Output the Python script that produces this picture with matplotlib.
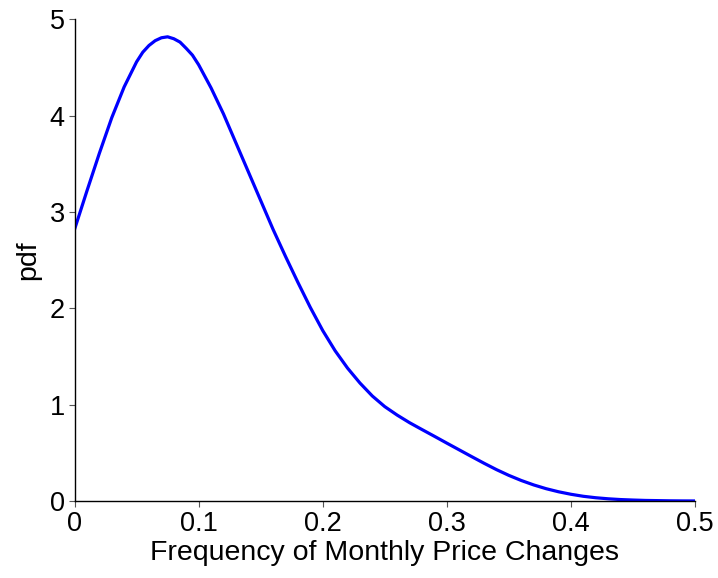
import matplotlib
matplotlib.use("Agg")
import matplotlib.pyplot as plt

freq = [0.00, 0.01, 0.02, 0.03, 0.04, 0.05, 0.055, 0.06, 0.065, 0.07, 0.075,
        0.08, 0.085, 0.09, 0.095, 0.10, 0.11, 0.12, 0.13, 0.14, 0.15, 0.16,
        0.17, 0.18, 0.19, 0.20, 0.21, 0.22, 0.23, 0.24, 0.25, 0.26, 0.27,
        0.28, 0.29, 0.30, 0.31, 0.32, 0.33, 0.34, 0.35, 0.36, 0.37, 0.38,
        0.39, 0.40, 0.41, 0.42, 0.43, 0.44, 0.45, 0.46, 0.47, 0.48, 0.49, 0.50]
pdf = [2.82, 3.22, 3.61, 3.98, 4.30, 4.56, 4.66, 4.73, 4.78, 4.81, 4.82,
       4.80, 4.765, 4.70, 4.63, 4.53, 4.29, 4.02, 3.72, 3.42, 3.12, 2.82,
       2.54, 2.27, 2.01, 1.77, 1.56, 1.38, 1.225, 1.09, 0.98, 0.892, 0.813,
       0.742, 0.672, 0.601, 0.531, 0.461, 0.392, 0.326, 0.266, 0.213, 0.167, 0.128,
       0.096, 0.070, 0.049, 0.034, 0.023, 0.015, 0.010, 0.006, 0.004, 0.002, 0.001, 0.0005]
xticks = [0, 0.1, 0.2, 0.3, 0.4, 0.5]
xticklabels = ["0", "0.1", "0.2", "0.3", "0.4", "0.5"]
yticks = [0, 1, 2, 3, 4, 5]

plt.rcParams['font.family'] = ['Liberation Sans', 'DejaVu Sans']

fig = plt.figure(figsize=(7.18, 5.78), dpi=100)
ax = fig.add_axes([0.1038, 0.1332, 0.968 - 0.1038, 0.9663 - 0.1332])
ax.plot(freq, pdf, color='#0000ff', lw=2.3, solid_joinstyle='round')
ax.set_xlim(0, 0.5)
ax.set_ylim(0, 5)
ax.set_xticks(xticks)
ax.set_xticklabels(xticklabels)
ax.set_yticks(yticks)
for s in ['top', 'right']:
    ax.spines[s].set_visible(False)
for s in ['left', 'bottom']:
    ax.spines[s].set_linewidth(1.0)
ax.tick_params(direction='out', length=4, width=0.8, color='#555555', labelsize=19.5, pad=3)
ax.set_xlabel('Frequency of Monthly Price Changes', fontsize=20.5, labelpad=2)
ax.set_ylabel('pdf', fontsize=20.5, labelpad=6)
fig.savefig('out.png', dpi=100)
